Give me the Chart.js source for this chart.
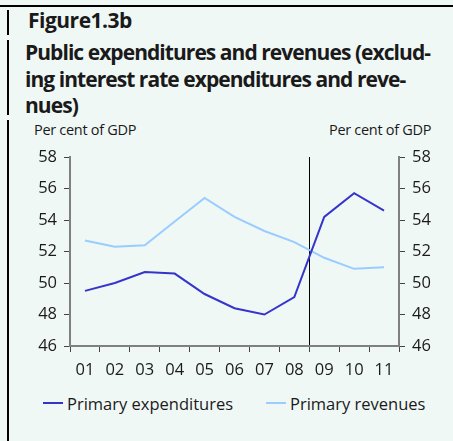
<!DOCTYPE html>
<html>
<head>
<meta charset="utf-8">
<script src="https://cdn.jsdelivr.net/npm/chart.js@4"></script>
<style>
  html, body { margin: 0; padding: 0; }
  body { width: 453px; height: 441px; background: #f0f8f6; position: relative; overflow: hidden;
         font-family: "Open Sans", sans-serif; color: #1a1a1a; }
  .rule-top { position: absolute; left: 0; top: 5px; width: 453px; height: 2px; background: #000; }
  .rule-left { position: absolute; left: 7px; width: 2px; background: #000; }
  .fig { position: absolute; left: 28px; top: 6px; font-weight: 700; font-size: 21px; letter-spacing: -0.5px; white-space: nowrap; }
  .title { position: absolute; left: 25px; top: 39px; font-weight: 700; font-size: 21px; line-height: 26.5px;
           letter-spacing: -0.95px; white-space: nowrap; }
  .unit { position: absolute; top: 120px; font-size: 14.5px; letter-spacing: -0.3px; white-space: nowrap; }
  #wrap { position: absolute; left: 16px; top: 140px; width: 437px; height: 250px; }
  .leg { position: absolute; top: 392px; height: 22px; display: flex; align-items: center;
         font-size: 16.5px; white-space: nowrap; }
  .leg i { display: inline-block; width: 20px; height: 2px; margin-right: 4px; }
</style>
</head>
<body>
<div class="rule-top"></div>
<div class="rule-left" style="top:10px;height:25px"></div>
<div class="rule-left" style="top:40px;height:75px"></div>
<div class="rule-left" style="top:120px;height:321px"></div>
<div class="fig">Figure1.3b</div>
<div class="title">Public expenditures and revenues (exclud-<br>ing interest rate expenditures and reve-<br>nues)</div>
<div class="unit" style="left:34px">Per cent of GDP</div>
<div class="unit" style="left:329px">Per cent of GDP</div>
<div id="wrap"><canvas id="chart"></canvas></div>
<div id="legend"></div>
<script>
// years 2001-2011
const years = ['01', '02', '03', '04', '05', '06', '07', '08', '09', '10', '11'];
const primaryExpenditures = [49.5, 50.0, 50.7, 50.6, 49.3, 48.4, 48.0, 49.1, 54.2, 55.7, 54.6];
const primaryRevenues = [52.7, 52.3, 52.4, 53.9, 55.4, 54.2, 53.3, 52.6, 51.6, 50.9, 51.0];
const yTicks = [46, 48, 50, 52, 54, 56, 58];

const axisGrey = '#808080';
const tickFont = { family: 'Open Sans', size: 16.5 };

function yAxis(pos) {
  return {
    position: pos,
    min: yTicks[0],
    max: yTicks[yTicks.length - 1],
    afterBuildTicks: s => { s.ticks = yTicks.map(v => ({ value: v })); },
    afterFit: s => { s.width = 54; },
    border: { color: axisGrey, width: 2 },
    grid: { drawOnChartArea: false, tickLength: 6, tickColor: '#444' },
    ticks: { color: '#1a1a1a', font: tickFont, padding: 7 }
  };
}

const chart = new Chart(document.getElementById('chart'), {
  type: 'line',
  data: {
    labels: years,
    datasets: [
      { label: 'Primary expenditures', data: primaryExpenditures, yAxisID: 'y',
        borderColor: '#3535cc', backgroundColor: '#3535cc', borderWidth: 2, pointRadius: 0, tension: 0 },
      { label: 'Primary revenues', data: primaryRevenues, yAxisID: 'y',
        borderColor: '#99ccff', backgroundColor: '#99ccff', borderWidth: 2, pointRadius: 0, tension: 0 }
    ]
  },
  options: {
    responsive: true,
    maintainAspectRatio: false,
    animation: false,
    layout: { padding: { top: 17, bottom: 6 } },
    scales: {
      x: {
        offset: true,
        afterFit: s => { s.height = 38; },
        border: { color: axisGrey, width: 2 },
        grid: {
          offset: true,
          tickLength: 6,
          tickColor: '#444',
          lineWidth: 1,
          // only the 2008/2009 divider runs through the plot
          color: ctx => ctx.index === 8 ? '#000' : 'rgba(0,0,0,0)'
        },
        ticks: { color: '#1a1a1a', font: tickFont, padding: 8, maxRotation: 0 }
      },
      y: yAxis('left'),
      y2: yAxis('right')
    },
    plugins: {
      legend: { display: false },
      tooltip: { enabled: false }
    }
  }
});

// legend under the plot, built from the datasets
const legendX = [43, 266];
chart.data.datasets.forEach((ds, i) => {
  const el = document.createElement('div');
  el.className = 'leg';
  el.style.left = legendX[i] + 'px';
  el.innerHTML = '<i style="background:' + ds.borderColor + '"></i>' + ds.label;
  document.getElementById('legend').appendChild(el);
});
</script>
</body>
</html>
